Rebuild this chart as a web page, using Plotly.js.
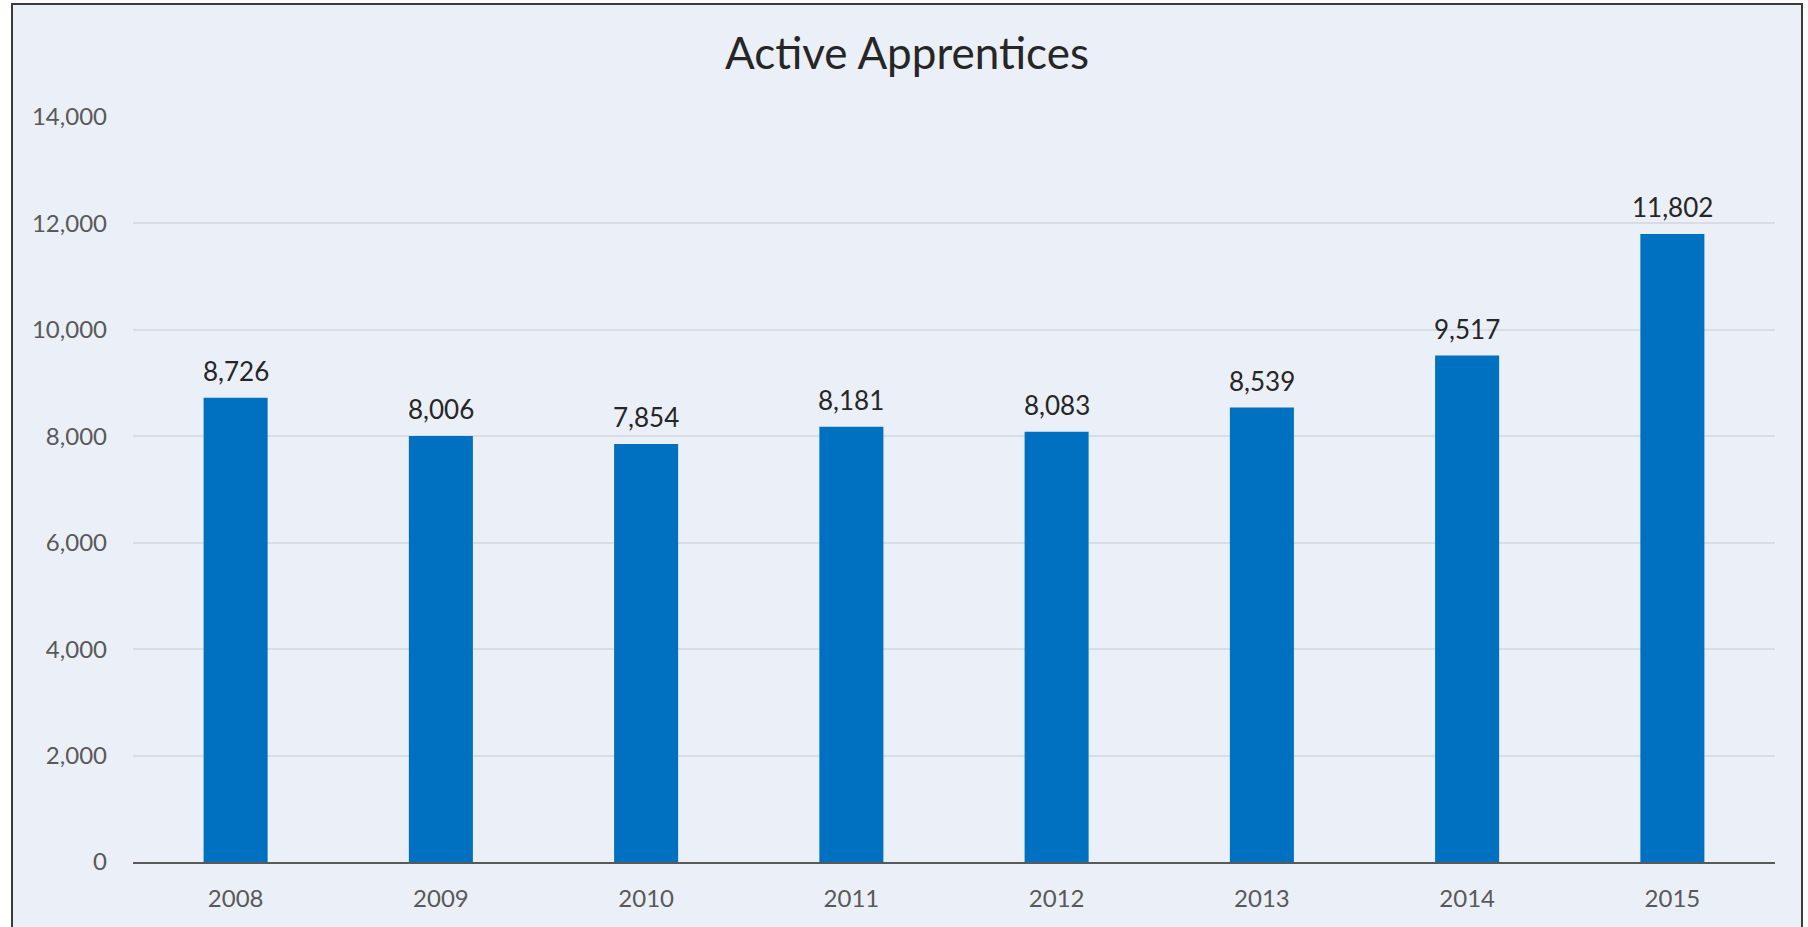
<!DOCTYPE html>
<html>
<head>
<meta charset="utf-8">
<script src="https://cdn.plot.ly/plotly-3.0.1.min.js"></script>
<style>
  html, body { margin: 0; padding: 0; background: #ffffff; overflow: hidden; }
  #frame {
    position: absolute; left: 11px; top: 3px;
    width: 1788px; height: 930px;
    border: 2px solid #3b3b3b;
    background: #ebeff8;
  }
  #chart { width: 1788px; height: 930px; }
</style>
</head>
<body>
<div id="frame"><div id="chart"></div></div>
<script>
var years = ['2008', '2009', '2010', '2011', '2012', '2013', '2014', '2015'];
var apprentices = [8726, 8006, 7854, 8181, 8083, 8539, 9517, 11802];
var yTicks = [0, 2000, 4000, 6000, 8000, 10000, 12000, 14000];

var trace = {
  x: years,
  y: apprentices,
  type: 'bar',
  marker: { color: '#0070c0' },
  hoverinfo: 'x+y'
};

// value labels above each bar (x given as category index)
var labels = years.map(function(yr, i) {
  return {
    x: i, y: apprentices[i],
    text: apprentices[i].toLocaleString('en-US'),
    showarrow: false,
    yanchor: 'bottom',
    yshift: 9,
    font: { family: 'Lato', size: 26, color: '#262626' }
  };
});

var layout = {
  width: 1788,
  height: 930,
  margin: { l: 120, r: 26, t: 112, b: 73 },
  paper_bgcolor: '#ebeff8',
  plot_bgcolor: '#ebeff8',
  showlegend: false,
  bargap: 0.688,
  title: {
    text: 'Active Apprentices',
    font: { family: 'Lato', size: 44, color: '#262626' },
    x: 0.5, xanchor: 'center',
    y: 0.948, yanchor: 'middle'
  },
  xaxis: {
    type: 'category',
    showgrid: false,
    showline: true,
    linecolor: '#595959',
    linewidth: 2,
    ticks: '',
    ticklabelstandoff: 14,
    tickfont: { family: 'Lato', size: 24, color: '#595959' }
  },
  yaxis: {
    range: [0, 14000],
    tickvals: yTicks,
    tickformat: ',d',
    showgrid: true,
    gridcolor: '#d9dce2',
    gridwidth: 2,
    zeroline: false,
    showline: false,
    ticks: '',
    ticklabelstandoff: 25,
    tickfont: { family: 'Lato', size: 24, color: '#595959' }
  },
  annotations: labels
};

Plotly.newPlot('chart', [trace], layout, { displayModeBar: false, staticPlot: true });
</script>
</body>
</html>
